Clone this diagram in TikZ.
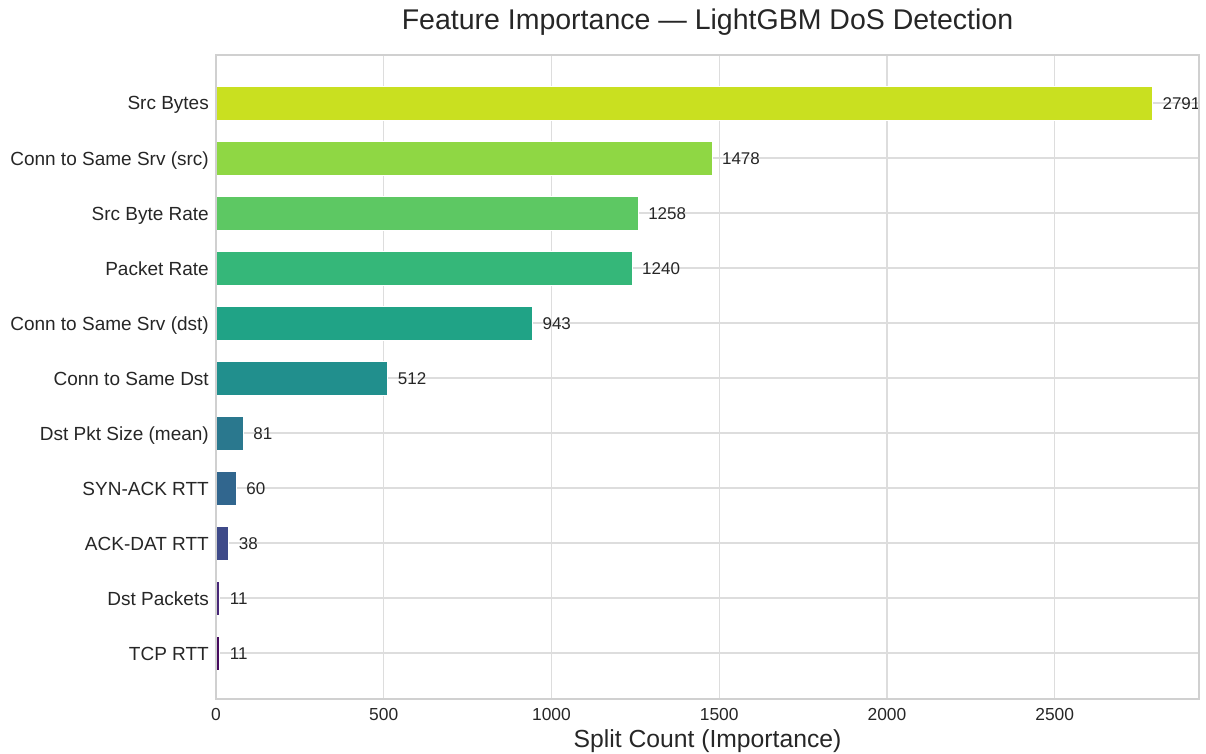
\documentclass[tikz,border=0pt]{standalone}
\usepackage{fontspec}
\setmainfont{Liberation Sans}
\usepackage{xcolor}
\usetikzlibrary{positioning}
\definecolor{gridgray}{HTML}{DDDDDD}
\definecolor{framegray}{HTML}{D0D0D0}
\definecolor{inkgray}{HTML}{262626}
\definecolor{vir1}{HTML}{C9E020}
\definecolor{vir2}{HTML}{8FD744}
\definecolor{vir3}{HTML}{5DC863}
\definecolor{vir4}{HTML}{35B779}
\definecolor{vir5}{HTML}{20A386}
\definecolor{vir6}{HTML}{218F8D}
\definecolor{vir7}{HTML}{2A788E}
\definecolor{vir8}{HTML}{31668E}
\definecolor{vir9}{HTML}{3E4A89}
\definecolor{vir10}{HTML}{482878}
\definecolor{vir11}{HTML}{450B5E}
\tikzset{
    gridLine/.style={
        draw=gridgray,
        line width=1.3pt
    },
    frameLine/.style={
        draw=framegray,
        line width=1.5pt
    },
    barShape/.style={
        draw=white,
        line width=0.6pt
    },
    featLabel/.style={
        anchor=base east,
        inner sep=0pt,
        text=inkgray,
        font=\fontsize{19}{22}\selectfont
    },
    valLabel/.style={
        anchor=west,
        inner sep=0pt,
        text=inkgray,
        font=\fontsize{17}{20}\selectfont
    },
    tickLabel/.style={
        anchor=base,
        inner sep=0pt,
        text=inkgray,
        font=\fontsize{17.4}{20}\selectfont
    }
}

\begin{document}
\begin{tikzpicture}[x=1pt,y=-1pt]
    \useasboundingbox (0,0) rectangle (1206,754);

    % grid behind the bars
    \foreach \v in {500,1000,1500,2000,2500}
        \draw[gridLine] ({216+\v*0.3355},55) -- ({216+\v*0.3355},699);
    \foreach \i in {0,...,10}
        \draw[gridLine] (216,{103+55*\i}) -- (1199,{103+55*\i});

    % bars, feature names and counts
    \foreach \i/\name/\v/\col in {
        0/Src Bytes/2791/vir1,
        1/Conn to Same Srv (src)/1478/vir2,
        2/Src Byte Rate/1258/vir3,
        3/Packet Rate/1240/vir4,
        4/Conn to Same Srv (dst)/943/vir5,
        5/Conn to Same Dst/512/vir6,
        6/Dst Pkt Size (mean)/81/vir7,
        7/SYN-ACK RTT/60/vir8,
        8/ACK-DAT RTT/38/vir9,
        9/Dst Packets/11/vir10,
        10/TCP RTT/11/vir11}{
        \pgfmathsetmacro\yc{103+55*\i}
        \pgfmathsetmacro\xe{216+\v*0.3355}
        \filldraw[barShape,fill=\col] (216,\yc-17) rectangle (\xe,\yc+17);
        \node[featLabel] (feat\i) at (209,\yc+7) {\name};
        \node[valLabel] (val\i) at (\xe+10,\yc+1) {\v};
    }

    % axes frame
    \draw[frameLine] (216,55) rectangle (1199,699);

    % x ticks
    \foreach \v in {0,500,1000,1500,2000,2500}
        \node[tickLabel] (tick\v) at ({216+\v*0.3355},720.5) {\v};

    \node[anchor=base,inner sep=0pt,text=inkgray,font=\fontsize{24.7}{28}\selectfont] (xlabel) at (707.5,747) {Split Count (Importance)};
    \node[anchor=base,inner sep=0pt,text=inkgray,font=\fontsize{28.5}{32}\selectfont] (title) at (707.5,30) {Feature Importance — LightGBM DoS Detection};
\end{tikzpicture}
\end{document}
